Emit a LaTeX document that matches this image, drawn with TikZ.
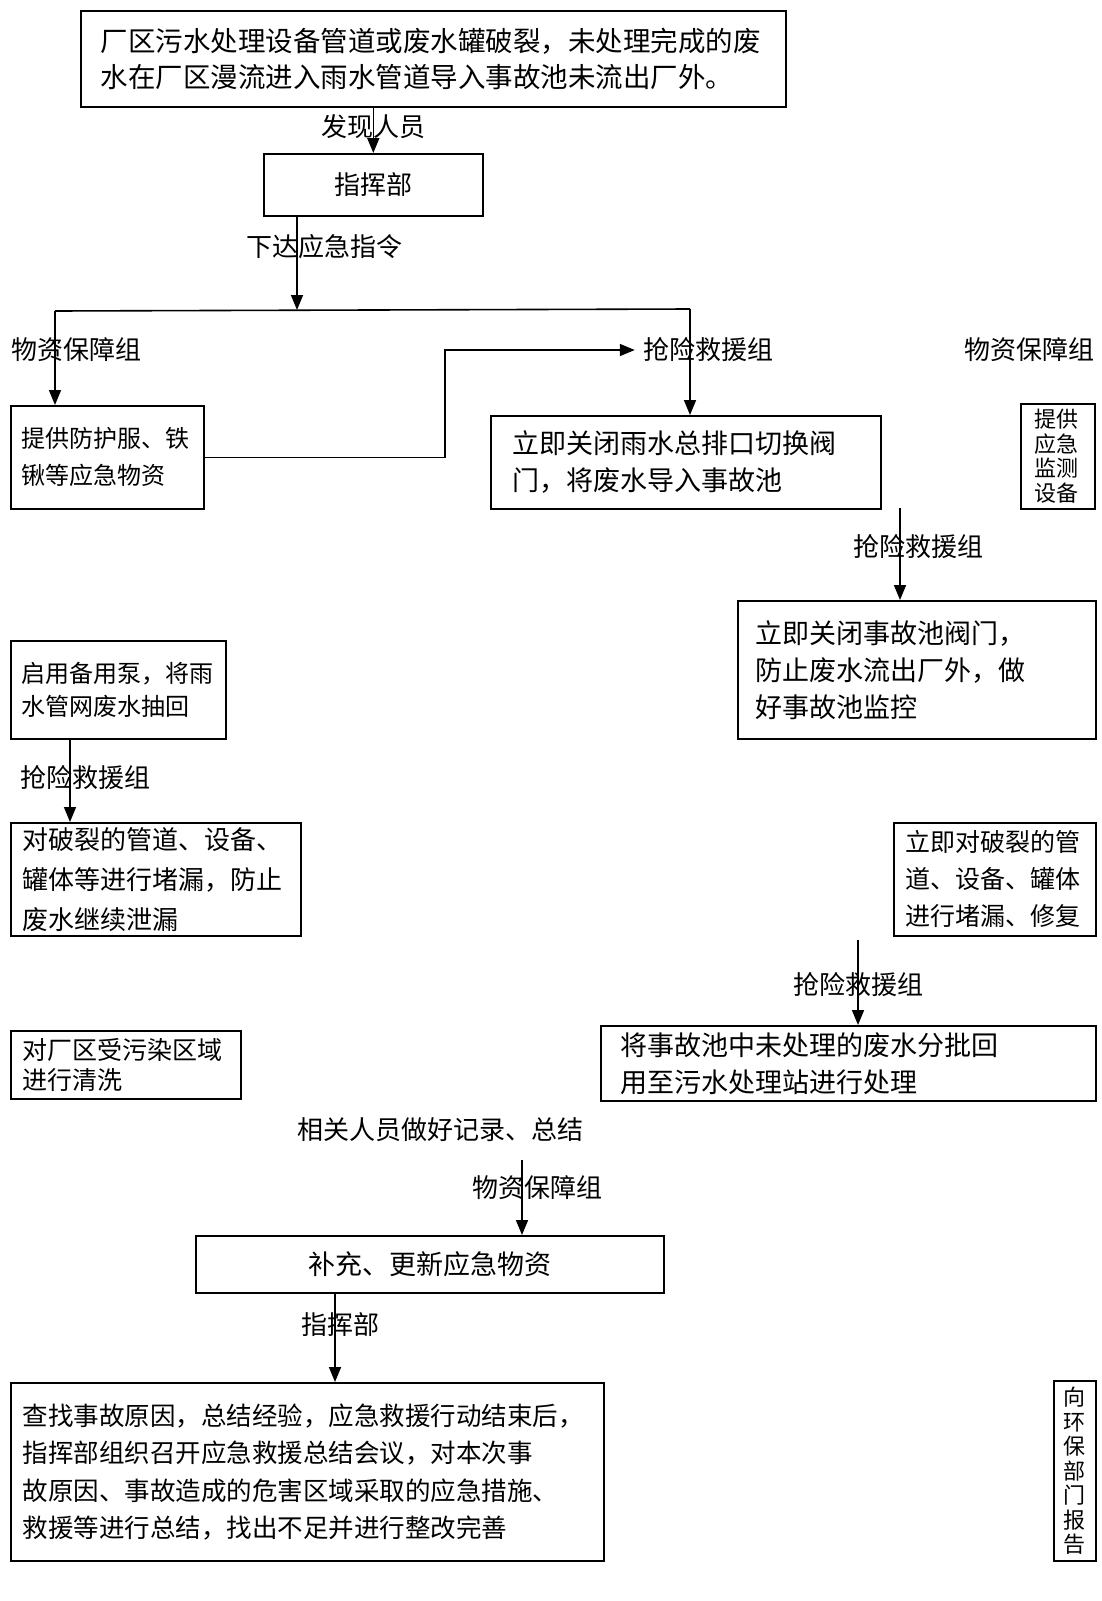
\documentclass[tikz,border=0pt]{standalone}
\usepackage{fontspec}
\setmainfont{Noto Sans CJK SC}
\usetikzlibrary{arrows.meta}
\begin{document}
\begin{tikzpicture}[x=1pt,y=-1pt,
  box/.style={draw, line width=1.6pt, anchor=north west, inner ysep=0pt, align=left, font=\fontsize{27}{37}\selectfont},
  cbox/.style={box, align=center},
  lbl/.style={inner sep=0pt, font=\fontsize{26}{30}\selectfont},
  arr/.style={line width=1.6pt, -{Triangle[length=15pt,width=12pt]}},
  ln/.style={line width=1.6pt}]
\useasboundingbox (0,0) rectangle (1101,1601);
% boxes
\node[box, font=\fontsize{27.5}{36}\selectfont, text width=665pt, inner xsep=20pt, minimum height=96pt] (top) at (80,10)
  {厂区污水处理设备管道或废水罐破裂，未处理完成的废\\水在厂区漫流进入雨水管道导入事故池未流出厂外。};
\node[cbox, font=\fontsize{26}{30}\selectfont, text width=199pt, inner xsep=10pt, minimum height=62pt] (cmd) at (263,153) {指挥部};
\node[box, font=\fontsize{24}{37}\selectfont, text width=171pt, inner xsep=11pt, minimum height=103pt] (A) at (10,405) {提供防护服、铁\\锹等应急物资};
\node[box, text width=346pt, inner xsep=22pt, minimum height=93pt] (B) at (490,415) {立即关闭雨水总排口切换阀\\门，将废水导入事故池};
\node[box, font=\fontsize{22}{24.5}\selectfont, text width=46pt, inner xsep=14pt, minimum height=105pt] (C) at (1020,403) {提供\\应急\\监测\\设备};
\node[box, text width=322pt, inner xsep=18pt, minimum height=138pt] (D) at (737,600) {立即关闭事故池阀门，\\防止废水流出厂外，做\\好事故池监控};
\node[box, font=\fontsize{24}{33}\selectfont, text width=193pt, inner xsep=11pt, minimum height=98pt] (E) at (10,640) {启用备用泵，将雨\\水管网废水抽回};
\node[box, font=\fontsize{26}{40}\selectfont, text width=266pt, inner xsep=12pt, minimum height=113pt] (F) at (10,822) {对破裂的管道、设备、\\罐体等进行堵漏，防止\\废水继续泄漏};
\node[box, font=\fontsize{25}{37}\selectfont, text width=178pt, inner xsep=12pt, minimum height=113pt] (G) at (893,822) {立即对破裂的管\\道、设备、罐体\\进行堵漏、修复};
\node[box, text width=455pt, inner xsep=20pt, minimum height=75pt] (H) at (600,1025) {将事故池中未处理的废水分批回\\用至污水处理站进行处理};
\node[box, font=\fontsize{25}{30}\selectfont, text width=206pt, inner xsep=12pt, minimum height=68pt] (I) at (10,1030) {对厂区受污染区域\\进行清洗};
\node[cbox, text width=448pt, inner xsep=10pt, minimum height=57pt] (K) at (195,1235) {补充、更新应急物资};
\node[box, font=\fontsize{25.5}{37.5}\selectfont, text width=569pt, inner xsep=12pt, minimum height=178pt] (L) at (10,1382)
  {查找事故原因，总结经验，应急救援行动结束后，\\指挥部组织召开应急救援总结会议，对本次事\\故原因、事故造成的危害区域采取的应急措施、\\救援等进行总结，找出不足并进行整改完善};
\node[cbox, font=\fontsize{22}{24.5}\selectfont, text width=24pt, inner xsep=9pt, minimum height=180pt] (M) at (1053,1380) {向\\环\\保\\部\\门\\报\\告};
% labels
\node[lbl] (l1) at (373,127) {发现人员};
\node[lbl] (l2) at (324,247) {下达应急指令};
\node[lbl] (l3) at (77,350) {物资保障组};
\node[lbl] (l4) at (708,350) {抢险救援组};
\node[lbl, anchor=east] (l5) at (1095,350) {物资保障组};
\node[lbl] (l6) at (918,547) {抢险救援组};
\node[lbl] (l7) at (85,778) {抢险救援组};
\node[lbl] (l8) at (858,985) {抢险救援组};
\node[lbl] (l9) at (440,1130) {相关人员做好记录、总结};
\node[lbl] (l10) at (537,1188) {物资保障组};
\node[lbl] (l11) at (340,1325) {指挥部};
% coordinates
\coordinate (busL) at (55,311);
\coordinate (busR) at (690,309);
\coordinate (busM) at (297,310);
\coordinate (elbow) at (445,350);
\coordinate (d0) at (900,508);
\coordinate (f0) at (70,738);
\coordinate (h0) at (858,940);
\coordinate (k0) at (522,1160);
\coordinate (m0) at (335,1292);
% connectors
\draw[arr] (cmd.north |- top.south) -- (cmd.north);
\draw[arr] (busM |- cmd.south) -- (busM);
\draw[ln] (busL) -- (busR);
\draw[arr] (busL) -- (busL |- A.north);
\draw[arr] (busR) -- (busR |- B.north);
\draw[arr] (A.east) -| (elbow) -- ([xshift=-8pt]l4.west);
\draw[arr] (d0) -- (d0 |- D.north);
\draw[arr] (f0) -- (f0 |- F.north);
\draw[arr] (h0) -- (h0 |- H.north);
\draw[arr] (k0) -- (k0 |- K.north);
\draw[arr] (m0) -- (m0 |- L.north);
\end{tikzpicture}
\end{document}
